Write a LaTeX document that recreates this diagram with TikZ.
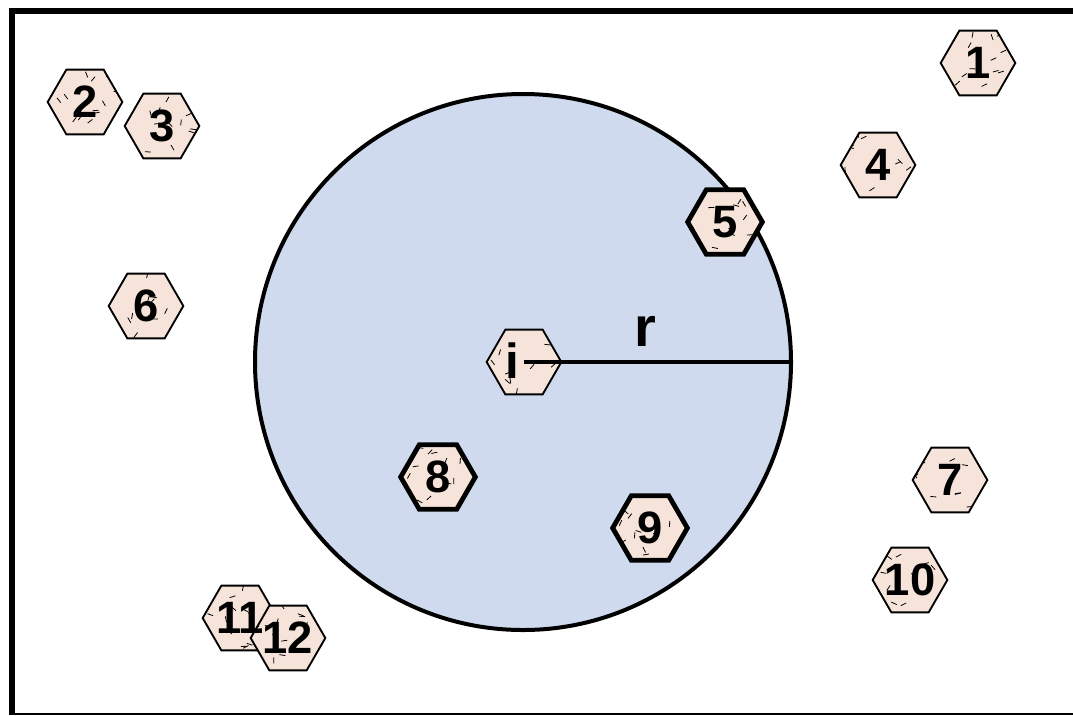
\documentclass[tikz,border=0pt]{standalone}
\usepackage{fontspec}
\setmainfont{Liberation Sans}
\usetikzlibrary{shapes.geometric,calc}
\definecolor{zonefill}{RGB}{208,218,238}
\definecolor{cellfill}{RGB}{246,228,218}
\tikzset{
  speckle/.style={path picture={
    \foreach \k in {1,...,13}{
      \draw[black, line width=0.6pt] ($(path picture bounding box.center)+(rand*27pt,rand*22pt)$) -- ++({rnd*360}:4.5pt);
    }}},
  hexa/.style={regular polygon, regular polygon sides=6, minimum size=56pt, inner sep=-8pt, outer sep=0pt,
    draw=black, line width=1.4pt, fill=cellfill, speckle, font=\fontsize{34}{38}\selectfont\bfseries},
  hexabold/.style={hexa, line width=3.6pt},
  numtxt/.style={inner sep=0pt, font=\fontsize{34}{38}\selectfont\bfseries}
}
\begin{document}
\begin{tikzpicture}[x=0.75pt, y=-0.75pt]
\pgfmathsetseed{11}
\useasboundingbox (0,0) rectangle (1073,715);
\draw[line width=4.5pt] (12,715) -- (12,11) -- (1073,11);
\draw[line width=1.5pt] (12,713.5) -- (1073,713.5);
\node[circle, draw=black, line width=3pt, fill=zonefill, minimum size=402pt, inner sep=0pt, outer sep=0pt] (zone) at (523,362) {};
\node[hexa] (h1) at (978,63) {1};
\node[hexa] (h2) at (85,102) {2};
\node[hexa] (h3) at (162,126) {3};
\node[hexa] (h4) at (878,165) {4};
\node[hexabold] (h5) at (725,222) {5};
\node[hexa] (h6) at (146,306) {6};
\node[hexa] (hi) at (524,362) {};
\node[numtxt, font=\fontsize{37}{40}\selectfont\bfseries] (ti) at (512,361) {i};
\draw[line width=2.6pt] (hi.center) -- (zone.east);
\node[numtxt, font=\fontsize{42}{46}\selectfont\bfseries] (rlab) at (645,331) {r};
\node[hexa] (h7) at (950,480) {7};
\node[hexabold] (h8) at (438,477) {8};
\node[hexabold] (h9) at (650,528) {9};
\node[hexa] (h10) at (910,580) {10};
\node[hexa] (h11) at (240,618) {};
\node[hexa] (h12) at (288,638) {12};
\node[numtxt] (t11) at (h11.center) {11};
\end{tikzpicture}
\end{document}
